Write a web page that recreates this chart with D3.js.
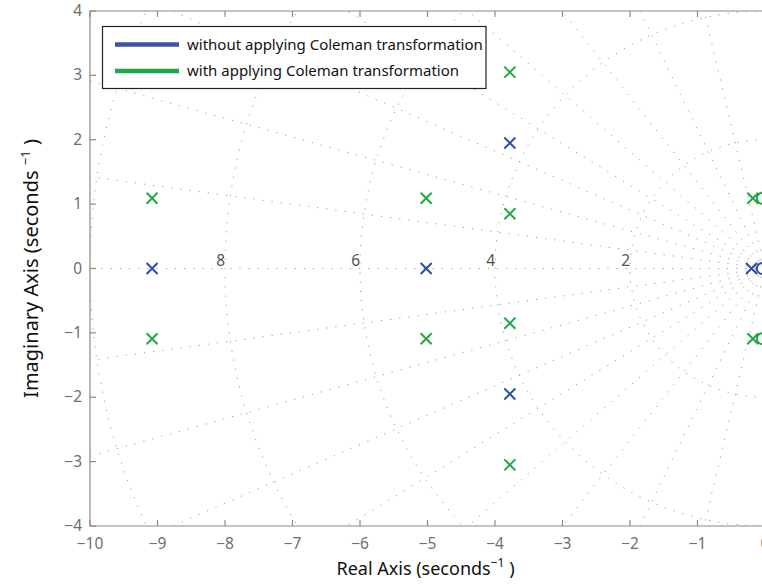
<!DOCTYPE html>
<html>
<head>
<meta charset="utf-8">
<script src="https://cdn.jsdelivr.net/npm/d3@7"></script>
<style>
  body { margin: 0; background: #fff; }
  svg { display: block; font-family: "Noto Sans", sans-serif; }
</style>
</head>
<body>
<script>
// ### Data ###
// poles / zeros without Coleman transformation
var polesWithoutRe = [-9.08, -5.02, -3.78, -3.78, -0.20];
var polesWithoutIm = [0, 0, 1.95, -1.95, 0];
var zerosWithoutRe = [-0.04];
var zerosWithoutIm = [0];
// poles / zeros with Coleman transformation
var polesWithRe = [-9.08, -9.08, -5.02, -5.02, -3.78, -3.78, -3.78, -3.78, -0.18, -0.18];
var polesWithIm = [1.09, -1.09, 1.09, -1.09, 3.05, -3.05, 0.85, -0.85, 1.09, -1.09];
var zerosWithRe = [-0.04, -0.04];
var zerosWithIm = [1.09, -1.09];

var xTicks = [-10, -9, -8, -7, -6, -5, -4, -3, -2, -1, 0];
var yTicks = [-4, -3, -2, -1, 0, 1, 2, 3, 4];
var dampingRatios = [0.99, 0.96, 0.91, 0.84, 0.74, 0.6, 0.42, 0.22];
var naturalFreqs = [2, 4, 6, 8, 10];
var freqLabels = [2, 4, 6, 8];
var legendLabels = ["without applying Coleman transformation", "with applying Coleman transformation"];

// ### Layout ###
var W = 762, H = 585;
var plot = {left: 90, right: 765, top: 11, bottom: 526};
var blue = "#2a4fa5", green = "#22a846";
var legendBlue = "#3c55a5", legendGreen = "#1fa84a";
var axisColor = "#8a8a8a", tickTextColor = "#6e6e6e", gridColor = "#9a9a9a";

var svg = d3.select("body").append("svg").attr("width", W).attr("height", H);

var x = d3.scaleLinear().domain([-10, 0]).range([plot.left, plot.right]);
var y = d3.scaleLinear().domain([-4, 4]).range([plot.bottom, plot.top]);

svg.append("clipPath").attr("id", "clip")
  .append("rect")
    .attr("x", plot.left).attr("y", plot.top)
    .attr("width", plot.right - plot.left).attr("height", plot.bottom - plot.top);

var grid = svg.append("g").attr("clip-path", "url(#clip)")
  .attr("fill", "none").attr("stroke", gridColor).attr("stroke-width", 1)
  .attr("stroke-dasharray", "1.2,8");

// damping lines (radial from origin), incl. real axis
var line = d3.line().x(function(d) { return x(d[0]); }).y(function(d) { return y(d[1]); });
var R = 30;
grid.append("path").attr("d", line([[0, 0], [-R, 0]]));
dampingRatios.forEach(function(z) {
  var th = Math.acos(z);
  [1, -1].forEach(function(s) {
    grid.append("path").attr("d", line([[0, 0], [-R * Math.cos(th), s * R * Math.sin(th)]]));
  });
});

// natural frequency semicircles
naturalFreqs.forEach(function(wn) {
  var pts = d3.range(-90, 90.5, 1).map(function(a) {
    var t = a * Math.PI / 180;
    return [-wn * Math.cos(t), wn * Math.sin(t)];
  });
  grid.append("path").attr("d", line(pts));
});

// frequency labels
svg.append("g").selectAll("text")
  .data(freqLabels)
  .enter().append("text")
    .attr("x", function(d) { return x(-d); })
    .attr("y", y(0) - 3)
    .attr("text-anchor", "end")
    .attr("font-size", 15.5)
    .attr("fill", "#555")
    .text(function(d) { return d; });

// ### Axes (MATLAB style: ticks inside) ###
var ax = svg.append("g");
ax.append("path")
  .attr("d", "M" + plot.right + "," + plot.top + "H" + plot.left + "V" + plot.bottom + "H" + plot.right)
  .attr("fill", "none").attr("stroke", axisColor).attr("stroke-width", 1.2);

ax.selectAll(".xt").data(xTicks).enter().append("path")
  .attr("d", function(d) {
    var px = x(d);
    return "M" + px + "," + plot.bottom + "v-6M" + px + "," + plot.top + "v6";
  })
  .attr("stroke", axisColor).attr("stroke-width", 1.2);
ax.selectAll(".yt").data(yTicks).enter().append("path")
  .attr("d", function(d) { return "M" + plot.left + "," + y(d) + "h6"; })
  .attr("stroke", axisColor).attr("stroke-width", 1.2);

var fmt = d3.format("d");
ax.selectAll(".xl").data(xTicks).enter().append("text")
  .attr("x", function(d) { return x(d); })
  .attr("y", plot.bottom + 23)
  .attr("text-anchor", "middle")
  .attr("font-size", 15.5)
  .attr("fill", tickTextColor)
  .text(function(d) { return fmt(d); });
ax.selectAll(".yl").data(yTicks).enter().append("text")
  .attr("x", plot.left - 8)
  .attr("y", function(d) { return y(d) + 5; })
  .attr("text-anchor", "end")
  .attr("font-size", 15.5)
  .attr("fill", tickTextColor)
  .text(function(d) { return fmt(d); });

// axis titles
var xl = svg.append("text")
  .attr("x", (plot.left + plot.right) / 2 - 2)
  .attr("y", 575)
  .attr("text-anchor", "middle")
  .attr("font-size", 18)
  .attr("fill", "#111");
xl.append("tspan").text("Real Axis (seconds");
xl.append("tspan").attr("font-size", 12).attr("dy", -8).text("−1");
xl.append("tspan").attr("dy", 8).text(" )");

var yl = svg.append("text")
  .attr("transform", "translate(38," + (y(0)) + ") rotate(-90)")
  .attr("text-anchor", "middle")
  .attr("font-size", 20)
  .attr("fill", "#111");
yl.append("tspan").text("Imaginary Axis (seconds ");
yl.append("tspan").attr("font-size", 13).attr("dy", -8).text("−1");
yl.append("tspan").attr("dy", 8).text(" )");

// ### Markers ###
var marks = svg.append("g").attr("clip-path", "url(#clip)");
var s = 5.5;
function drawX(re, im, color) {
  marks.append("g").selectAll("path")
    .data(d3.range(re.length))
    .enter().append("path")
      .attr("d", function(i) {
        var px = x(re[i]), py = y(im[i]);
        return "M" + (px - s) + "," + (py - s) + "L" + (px + s) + "," + (py + s) +
               "M" + (px - s) + "," + (py + s) + "L" + (px + s) + "," + (py - s);
      })
      .attr("stroke", color).attr("stroke-width", 2).attr("fill", "none");
}
function drawO(re, im, color) {
  marks.append("g").selectAll("circle")
    .data(d3.range(re.length))
    .enter().append("circle")
      .attr("cx", function(i) { return x(re[i]); })
      .attr("cy", function(i) { return y(im[i]); })
      .attr("r", 5.5)
      .attr("stroke", color).attr("stroke-width", 2).attr("fill", "none");
}
drawX(polesWithRe, polesWithIm, green);
drawO(zerosWithRe, zerosWithIm, green);
drawX(polesWithoutRe, polesWithoutIm, blue);
drawO(zerosWithoutRe, zerosWithoutIm, blue);

// ### Legend ###
var lg = svg.append("g");
lg.append("rect")
  .attr("x", 102.5).attr("y", 26.5).attr("width", 383.5).attr("height", 62)
  .attr("fill", "#fff").attr("stroke", "#222").attr("stroke-width", 1.2);
[legendBlue, legendGreen].forEach(function(c, i) {
  var ly = 44.5 + i * 26.5;
  lg.append("line")
    .attr("x1", 115).attr("x2", 179).attr("y1", ly).attr("y2", ly)
    .attr("stroke", c).attr("stroke-width", 4.5);
  lg.append("text")
    .attr("x", 187).attr("y", ly + 5)
    .attr("font-size", 15)
    .attr("fill", "#111")
    .text(legendLabels[i]);
});
</script>
</body>
</html>
